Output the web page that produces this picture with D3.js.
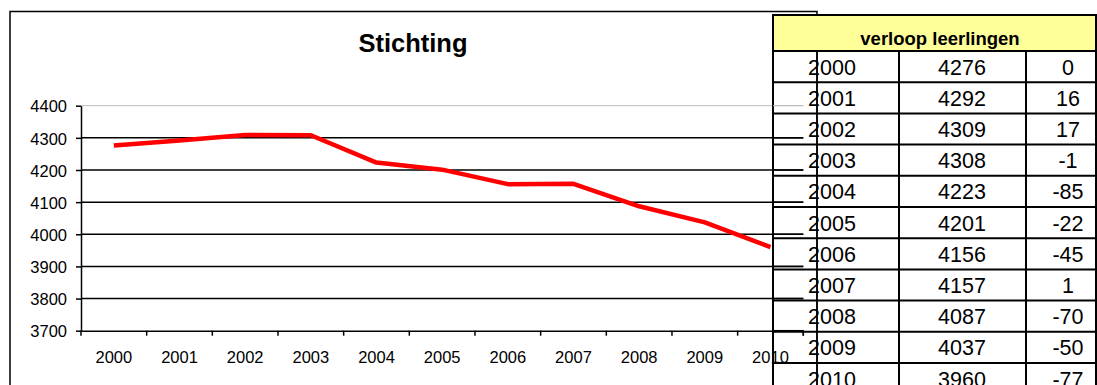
<!DOCTYPE html>
<html>
<head>
<meta charset="utf-8">
<script src="https://cdn.jsdelivr.net/npm/d3@7"></script>
<style>
  html, body { margin: 0; padding: 0; background: #fff; }
  svg { display: block; font-family: "Liberation Sans", Arial, sans-serif; }
</style>
</head>
<body>
<svg id="chart" width="1097" height="385"></svg>
<script>
// ---- data ----
const years = ["2000","2001","2002","2003","2004","2005","2006","2007","2008","2009","2010"];
const students = [4276, 4292, 4309, 4308, 4223, 4201, 4156, 4157, 4087, 4037, 3960];
const changes = [0, 16, 17, -1, -85, -22, -45, 1, -70, -50, -77];
const yTicks = [3700, 3800, 3900, 4000, 4100, 4200, 4300, 4400];
const chartTitle = "Stichting";
const tableTitle = "verloop leerlingen";

// ---- layout ----
const FONT = "Liberation Sans, Arial, sans-serif";
const svg = d3.select("#chart");
const plot = { left: 81, right: 803.3, top: 105.7, bottom: 330.7 };

const x = d3.scaleBand().domain(years).range([plot.left, plot.right]).padding(0);
const y = d3.scaleLinear().domain([3700, 4400]).range([plot.bottom, plot.top]);

// chart background + frame
svg.append("rect").attr("x", 10).attr("y", 11.5).attr("width", 807).attr("height", 400)
  .attr("fill", "#fff").attr("stroke", "#000").attr("stroke-width", 1.5);

// title
svg.append("text").attr("x", 413).attr("y", 52).attr("text-anchor", "middle")
  .attr("font-size", 25.5).attr("font-weight", "bold").attr("fill", "#000").text(chartTitle);

// gridlines
svg.append("g").selectAll("line").data(yTicks.filter(d => d > 3700))
  .join("line")
  .attr("x1", plot.left).attr("x2", plot.right)
  .attr("y1", d => y(d)).attr("y2", d => y(d))
  .attr("stroke", d => d === 4400 ? "#bdbdbd" : "#000")
  .attr("stroke-width", d => d === 4400 ? 1 : 1.5);

// y axis
const yAxis = svg.append("g").attr("transform", `translate(${plot.left},0)`)
  .call(d3.axisLeft(y).tickValues(yTicks).tickFormat(d3.format("d"))
    .tickSize(5).tickSizeOuter(0).tickPadding(9));
yAxis.attr("font-family", FONT);
yAxis.select(".domain").attr("stroke", "#000").attr("stroke-width", 1.5);
yAxis.selectAll(".tick line").attr("stroke", "#000").attr("stroke-width", 1.5);
yAxis.selectAll("text").attr("font-size", 16.5).attr("font-family", FONT)
  .attr("fill", "#000").attr("dy", "0.38em");

// x axis
const xAxis = svg.append("g").attr("transform", `translate(0,${plot.bottom})`)
  .call(d3.axisBottom(x).tickSize(0).tickSizeOuter(0));
xAxis.attr("font-family", FONT);
xAxis.select(".domain").attr("stroke", "#000").attr("stroke-width", 1.5);
xAxis.selectAll("text").attr("font-size", 16.5).attr("font-family", FONT)
  .attr("fill", "#000").attr("y", 32).attr("dy", 0);
// tick marks at category boundaries
const boundaries = years.map(d => x(d)).concat([plot.right]);
xAxis.append("g").selectAll("line").data(boundaries).join("line")
  .attr("x1", d => d).attr("x2", d => d).attr("y1", 0).attr("y2", 5)
  .attr("stroke", "#000").attr("stroke-width", 1.5);

// line
const line = d3.line().x((d, i) => x(years[i]) + x.bandwidth() / 2).y(d => y(d));
svg.append("path").datum(students).attr("d", line)
  .attr("fill", "none").attr("stroke", "#ff0000").attr("stroke-width", 4.5)
  .attr("stroke-linejoin", "round");

// ---- table ----
const cols = [773, 899, 1026, 1096];
const headerTop = 15, headerBottom = 51, rowH = 31.2;
const rowY = d3.scaleBand().domain(years).range([headerBottom, headerBottom + rowH * years.length]);
const tbl = svg.append("g");

tbl.append("rect").attr("x", cols[0]).attr("y", headerTop)
  .attr("width", cols[3] - cols[0]).attr("height", headerBottom - headerTop)
  .attr("fill", "#ffff99").attr("stroke", "#000").attr("stroke-width", 2);
tbl.append("text").attr("x", 940).attr("y", 45).attr("text-anchor", "middle")
  .attr("font-size", 18.5).attr("font-weight", "bold").attr("fill", "#000").text(tableTitle);

// row borders
tbl.selectAll("line.row").data(years).join("line").attr("class", "row")
  .attr("x1", cols[0]).attr("x2", cols[3])
  .attr("y1", d => rowY(d) + rowY.bandwidth()).attr("y2", d => rowY(d) + rowY.bandwidth())
  .attr("stroke", "#000").attr("stroke-width", 2);
// column borders
tbl.selectAll("line.col").data(cols).join("line").attr("class", "col")
  .attr("x1", d => d).attr("x2", d => d)
  .attr("y1", (d, i) => (i === 0 || i === 3) ? headerTop : headerBottom).attr("y2", 400)
  .attr("stroke", "#000").attr("stroke-width", 2);

const textX = [832, 962, 1068];
const cellTexts = [years, students.map(String), changes.map(String)];
cellTexts.forEach((arr, ci) => {
  tbl.append("g").selectAll("text").data(arr).join("text")
    .attr("x", textX[ci])
    .attr("y", (d, i) => rowY(years[i]) + 23.5)
    .attr("text-anchor", "middle")
    .attr("font-size", 21.5).attr("fill", "#000").text(d => d);
});

// chart right border drawn across transparent table rows
svg.append("line").attr("x1", 817).attr("x2", 817).attr("y1", headerBottom).attr("y2", 400)
  .attr("stroke", "#000").attr("stroke-width", 1.5);
// gridline stubs visible over the table
svg.append("g").selectAll("line").data(yTicks.filter(d => d > 3700 && d < 4400))
  .join("line")
  .attr("x1", cols[0]).attr("x2", plot.right)
  .attr("y1", d => y(d)).attr("y2", d => y(d))
  .attr("stroke", "#000").attr("stroke-width", 1.5);
svg.append("line").attr("x1", cols[0]).attr("x2", plot.right)
  .attr("y1", y(4400)).attr("y2", y(4400)).attr("stroke", "#bdbdbd").attr("stroke-width", 1);
svg.append("line").attr("x1", cols[0]).attr("x2", plot.right)
  .attr("y1", plot.bottom).attr("y2", plot.bottom).attr("stroke", "#000").attr("stroke-width", 1.5);
svg.append("line").attr("x1", plot.right).attr("x2", plot.right)
  .attr("y1", plot.bottom).attr("y2", plot.bottom + 5).attr("stroke", "#000").attr("stroke-width", 1.5);
</script>
</body>
</html>
